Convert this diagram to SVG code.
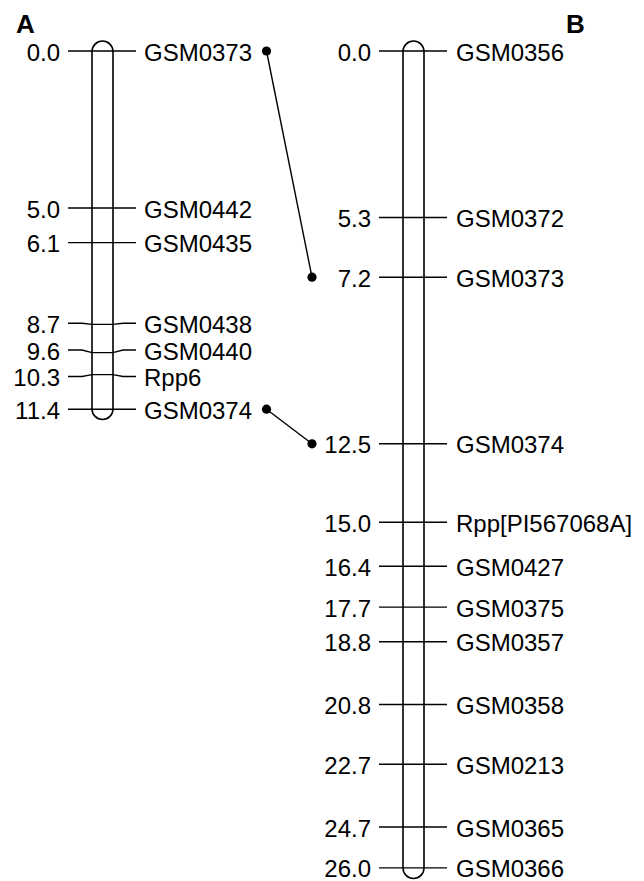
<svg xmlns="http://www.w3.org/2000/svg" width="644" height="881" viewBox="0 0 644 881">
<style>
text{font-family:"Liberation Sans",Arial,sans-serif;font-size:24px;fill:#000}
.t{fill:none;stroke:#000;stroke-width:1.4}
.chr{fill:#fff;stroke:#000;stroke-width:1.6}
.pos{text-anchor:end}
.hd{font-weight:bold;font-size:26px}
.c{stroke:#000;stroke-width:1.4;fill:none}
</style>
<rect width="644" height="881" fill="#fff"/>
<g id="chrA">
<text class="hd" x="16" y="33">A</text>
<path class="chr" d="M92,51.5 A10.5,10.5 0 0 1 113,51.5 L113,409 A10.5,10.5 0 0 1 92,409 Z"/>
<path class="t" d="M68,51H136M68,208H136M68,242.6H136M68,323.3H82L92,324.4H113L123,323.3H136M68,350H82L92,352.6H113L123,350H136M68,376.5H82L92,374.6H113L123,376.5H136M68,409.2H136"/>
<g class="pos">
<text x="60" y="60.5">0.0</text>
<text x="60" y="217.5">5.0</text>
<text x="60" y="252">6.1</text>
<text x="60" y="332.8">8.7</text>
<text x="60" y="359.5">9.6</text>
<text x="60" y="386">10.3</text>
<text x="60" y="418.7">11.4</text>
</g>
<text x="144" y="60.5">GSM0373</text>
<text x="144" y="217.5">GSM0442</text>
<text x="144" y="252">GSM0435</text>
<text x="144" y="332.8">GSM0438</text>
<text x="144" y="359.5">GSM0440</text>
<text x="144" y="386">Rpp6</text>
<text x="144" y="418.7">GSM0374</text>
</g>
<g id="chrB">
<text class="hd" x="566" y="33">B</text>
<path class="chr" d="M403,51.5 A10.5,10.5 0 0 1 424,51.5 L424,868 A10.5,10.5 0 0 1 403,868 Z"/>
<path class="t" d="M379,51H447M379,217.5H447M379,277.2H447M379,443.8H447M379,522.3H447M379,566.3H447M379,607.1H447M379,641.7H447M379,704.5H447M379,764.2H447M379,827H447M379,867.9H447"/>
<g class="pos">
<text x="371" y="60.5">0.0</text>
<text x="371" y="227">5.3</text>
<text x="371" y="286.7">7.2</text>
<text x="371" y="453.3">12.5</text>
<text x="371" y="531.8">15.0</text>
<text x="371" y="575.8">16.4</text>
<text x="371" y="616.6">17.7</text>
<text x="371" y="651.2">18.8</text>
<text x="371" y="714">20.8</text>
<text x="371" y="773.7">22.7</text>
<text x="371" y="836.5">24.7</text>
<text x="371" y="877.4">26.0</text>
</g>
<text x="456" y="60.5">GSM0356</text>
<text x="456" y="227">GSM0372</text>
<text x="456" y="286.7">GSM0373</text>
<text x="456" y="453.3">GSM0374</text>
<text x="456" y="531.8">Rpp[PI567068A]</text>
<text x="456" y="575.8">GSM0427</text>
<text x="456" y="616.6">GSM0375</text>
<text x="456" y="651.2">GSM0357</text>
<text x="456" y="714">GSM0358</text>
<text x="456" y="773.7">GSM0213</text>
<text x="456" y="836.5">GSM0365</text>
<text x="456" y="877.4">GSM0366</text>
</g>
<g id="connectors">
<line class="c" x1="266.5" y1="51" x2="312" y2="277.2"/>
<line class="c" x1="266.5" y1="409.2" x2="312" y2="443.8"/>
<circle cx="266.5" cy="51" r="4.6"/>
<circle cx="312" cy="277.2" r="4.6"/>
<circle cx="266.5" cy="409.2" r="4.6"/>
<circle cx="312" cy="443.8" r="4.6"/>
</g>
</svg>
